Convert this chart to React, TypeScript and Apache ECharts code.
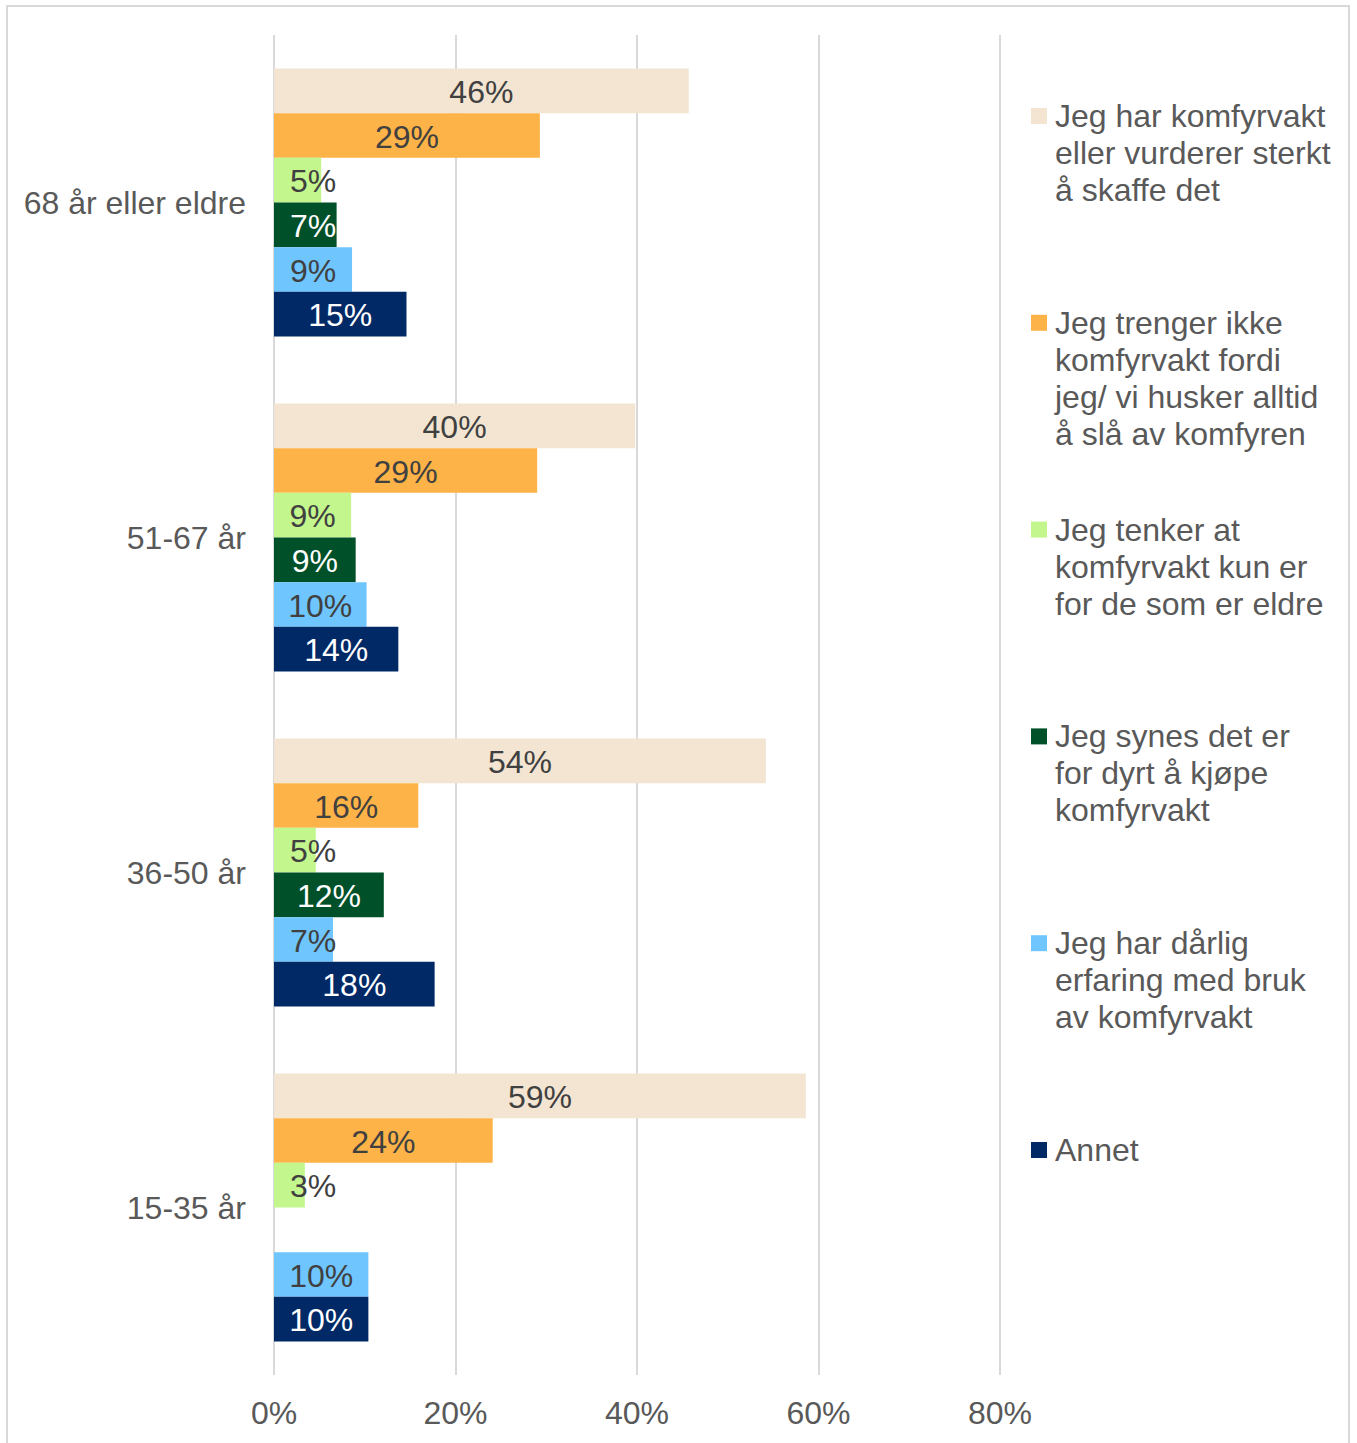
import React, { useEffect, useRef } from "react";
import * as echarts from "echarts";

const categories = ["68 år eller eldre", "51-67 år", "36-50 år", "15-35 år"];

const seriesNames = [
  "Jeg har komfyrvakt eller vurderer sterkt å skaffe det",
  "Jeg trenger ikke komfyrvakt fordi jeg/ vi husker alltid å slå av komfyren",
  "Jeg tenker at komfyrvakt kun er for de som er eldre",
  "Jeg synes det er for dyrt å kjøpe komfyrvakt",
  "Jeg har dårlig erfaring med bruk av komfyrvakt",
  "Annet",
];

const legendLines = [
  "Jeg har komfyrvakt\neller vurderer sterkt\nå skaffe det",
  "Jeg trenger ikke\nkomfyrvakt fordi\njeg/ vi husker alltid\nå slå av komfyren",
  "Jeg tenker at\nkomfyrvakt kun er\nfor de som er eldre",
  "Jeg synes det er\nfor dyrt å kjøpe\nkomfyrvakt",
  "Jeg har dårlig\nerfaring med bruk\nav komfyrvakt",
  "Annet",
];

// values per series, in category order (68+, 51-67, 36-50, 15-35)
const harKomfyrvakt = [45.7, 39.8, 54.2, 58.6];
const trengerIkke = [29.3, 29.0, 15.9, 24.1];
const kunForEldre = [5.2, 8.5, 4.6, 3.4];
const forDyrt = [6.9, 9.0, 12.1, null];
const darligErfaring = [8.6, 10.2, 6.5, 10.4];
const annet = [14.6, 13.7, 17.7, 10.4];

const seriesValues = [harKomfyrvakt, trengerIkke, kunForEldre, forDyrt, darligErfaring, annet];

const colors = ["#F3E5D2", "#FDB347", "#C3F78D", "#00502A", "#6FC6FF", "#002966"];
const labelColors = ["#404040", "#404040", "#404040", "#ffffff", "#404040", "#ffffff"];

const xTicks = [0, 20, 40, 60, 80];

const FONT = "'Liberation Sans', Arial, sans-serif";

export default function App() {
  const ref = useRef<HTMLDivElement>(null);

  useEffect(() => {
    if (!ref.current) return;
    const chart = echarts.init(ref.current, null, { renderer: "svg" });

    const series = seriesNames.map((name, si) => ({
      name,
      type: "bar",
      barGap: 0,
      barCategoryGap: "20%",
      itemStyle: { color: colors[si] },
      data: seriesValues[si].map((v) => {
        if (v == null) return null;
        const small = v < 8.4;
        return {
          value: v,
          label: small
            ? { position: "insideLeft", distance: 16, offset: [0, 1] }
            : { position: "inside", offset: [0, 1] },
        };
      }),
      label: {
        show: true,
        color: labelColors[si],
        fontSize: 32,
        fontFamily: FONT,
        formatter: (p: any) => Math.round(p.value) + "%",
      },
    }));

    const legendGraphics: any[] = [];
    legendLines.forEach((txt, i) => {
      const top = 97.5 + i * 206.8;
      legendGraphics.push({
        type: "rect",
        shape: { x: 1031, y: top + 10.5, width: 16, height: 16 },
        style: { fill: colors[i] },
      });
      legendGraphics.push({
        type: "text",
        x: 1055,
        y: top,
        style: {
          text: txt,
          fontSize: 32,
          fontFamily: FONT,
          fill: "#595959",
          lineHeight: 37,
          verticalAlign: "top",
          align: "left",
        },
      });
    });

    chart.setOption({
      animation: false,
      backgroundColor: "#ffffff",
      grid: { left: 274, top: 35, width: 726, height: 1340, containLabel: false },
      xAxis: {
        type: "value",
        min: xTicks[0],
        max: xTicks[xTicks.length - 1],
        interval: 20,
        axisLine: { show: false },
        axisTick: { show: false },
        splitLine: { show: true, lineStyle: { color: "#D9D9D9", width: 2 } },
        axisLabel: {
          formatter: (v: number) => v + "%",
          color: "#595959",
          fontSize: 32,
          fontFamily: FONT,
          margin: 22,
        },
      },
      yAxis: {
        type: "category",
        inverse: true,
        data: categories,
        axisLine: { show: false },
        axisTick: { show: false },
        axisLabel: {
          color: "#595959",
          fontSize: 32,
          fontFamily: FONT,
          margin: 28,
        },
      },
      series,
      graphic: [
        {
          type: "rect",
          shape: { x: 7, y: 6, width: 1342, height: 1445 },
          style: { fill: "none", stroke: "#D9D9D9", lineWidth: 2 },
          silent: true,
        },
        ...legendGraphics,
      ],
    });

    return () => chart.dispose();
  }, []);

  return (
    <div
      ref={ref}
      style={{ position: "absolute", left: 0, top: 0, width: 1357, height: 1443 }}
    />
  );
}
